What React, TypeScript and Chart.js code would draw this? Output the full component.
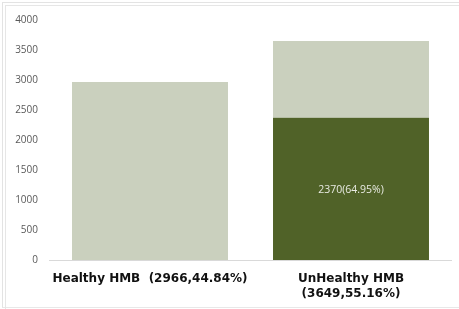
import React, { useEffect, useRef } from "react";
import { Chart, registerables } from "chart.js";

Chart.register(...registerables);

const categories: (string | string[])[] = [
  "Healthy HMB  (2966,44.84%)",
  ["UnHealthy HMB", "(3649,55.16%)"],
];
const darkValues: (number | null)[] = [null, 2370];
const lightValues: number[] = [2966, 1279];
const darkLabels: string[] = ["", "2370(64.95%)"];
const yTicks = { min: 0, max: 4000, step: 500 };

const LIGHT = "#CAD0BE";
const DARK = "#506228";

const barLabelPlugin = {
  id: "barLabel",
  afterDatasetsDraw(chart: any) {
    const ctx = chart.ctx;
    const meta = chart.getDatasetMeta(0);
    meta.data.forEach((el: any, i: number) => {
      const txt = darkLabels[i];
      if (!txt || darkValues[i] == null) return;
      const { x, y, base } = el.getProps(["x", "y", "base"], true);
      ctx.save();
      ctx.fillStyle = "#E8EAE2";
      ctx.font = "10.5px 'Open Sans'";
      ctx.textAlign = "center";
      ctx.textBaseline = "middle";
      ctx.fillText(txt, x, (y + base) / 2 + 1);
      ctx.restore();
    });
  },
};

export default function App() {
  const ref = useRef<HTMLCanvasElement>(null);
  useEffect(() => {
    document.body.style.margin = "0";
    const chart = new Chart(ref.current!, {
      type: "bar",
      data: {
        labels: categories,
        datasets: [
          {
            data: darkValues,
            backgroundColor: DARK,
            barPercentage: 0.776,
            categoryPercentage: 1,
            stack: "s",
          },
          {
            data: lightValues,
            backgroundColor: LIGHT,
            barPercentage: 0.776,
            categoryPercentage: 1,
            stack: "s",
          },
        ],
      },
      options: {
        animation: false,
        responsive: false,
        layout: { padding: { top: 20, right: 7.5, left: 0, bottom: 0 } },
        plugins: { legend: { display: false }, tooltip: { enabled: false } },
        scales: {
          x: {
            stacked: true,
            grid: { display: false, drawTicks: false },
            border: { display: true, color: "#D9D9D9" },
            ticks: {
              color: "#111111",
              font: { family: "'DejaVu Sans'", size: 12, weight: "bold", lineHeight: 1.25 },
              padding: 11,
              maxRotation: 0,
              autoSkip: false,
            },
            afterFit: (s: any) => {
              s.height = 49;
            },
          },
          y: {
            stacked: true,
            min: yTicks.min,
            max: yTicks.max,
            grid: { display: false, drawTicks: false },
            border: { display: false },
            ticks: {
              stepSize: yTicks.step,
              color: "#595959",
              font: { family: "'Open Sans'", size: 10 },
              padding: 11.5,
              callback: (v: any) => String(v),
            },
            afterFit: (s: any) => {
              s.width = 49.5;
            },
          },
        },
      },
      plugins: [barLabelPlugin],
    });
    return () => chart.destroy();
  }, []);
  return (
    <div style={{ position: "absolute", left: 0, top: 0, width: 459, height: 309, background: "#fff" }}>
      <div
        style={{
          position: "absolute",
          left: 2,
          top: 2,
          width: 457,
          height: 304,
          borderTop: "1px solid #E3E3E3",
          borderLeft: "1px solid #E3E3E3",
          borderBottom: "1px solid #E8E8E8",
        }}
      />
      <div
        style={{
          position: "absolute",
          left: 5,
          top: 5,
          width: 454,
          height: 304,
          borderTop: "1px solid #E6E6E6",
          borderLeft: "1px solid #E6E6E6",
        }}
      />
      <canvas ref={ref} width={459} height={309} style={{ position: "absolute", left: 0, top: 0 }} />
    </div>
  );
}
